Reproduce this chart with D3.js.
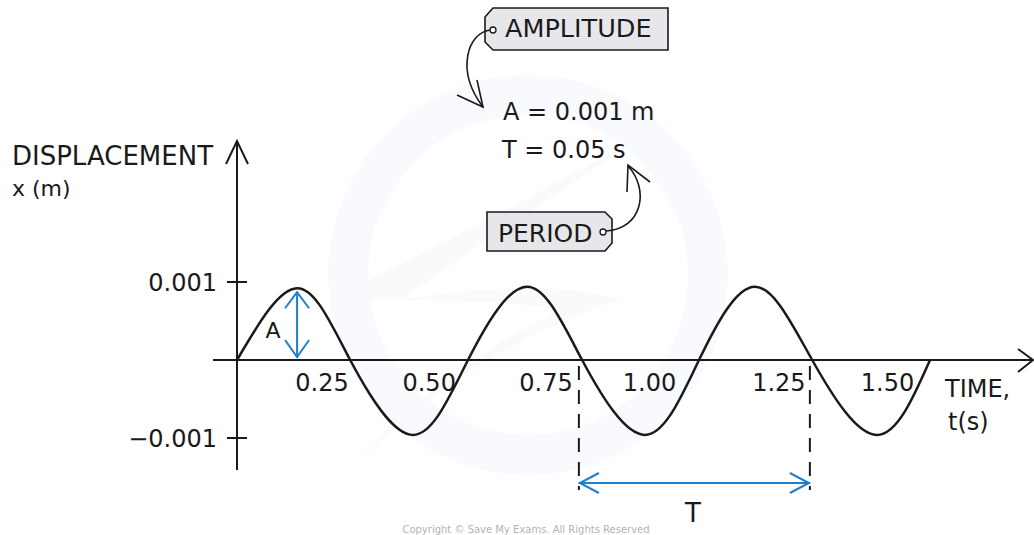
<!DOCTYPE html>
<html><head><meta charset="utf-8">
<script src="https://cdn.jsdelivr.net/npm/d3@7/dist/d3.min.js"></script>
<style>
html,body{margin:0;padding:0;background:#fff;}
svg{display:block;}
text{font-family:"DejaVu Sans",sans-serif;fill:#1a1a1a;}
</style></head>
<body>
<svg id="chart" width="1034" height="535"></svg>
<script>
// ---- data ----
const waveTimes  = [0, 0.0130, 0.0245, 0.0381, 0.0500, 0.0628, 0.0747, 0.0883, 0.1000, 0.1121, 0.1245, 0.1385, 0.1500];
const waveValues = [0, 0.00092, 0, -0.00096, 0, 0.00094, 0, -0.00096, 0, 0.00094, 0, -0.00096, 0];
const yTickValues = [0.001, -0.001];
const yTickLabels = ["0.001", "\u22120.001"];
const xTickLabels = ["0.25", "0.50", "0.75", "1.00", "1.25", "1.50"];
const xTickPositions = [0.0184, 0.0416, 0.0669, 0.0893, 0.1173, 0.1408];
const amplitudeTime = 0.0130;
const periodStart = 0.074, periodEnd = 0.124;

const svg = d3.select("#chart");
const blue = "#1f7fce";
const ink = "#1a1a1a";

const x = d3.scaleLinear().domain([0, 0.15]).range([237, 930]);
const y = d3.scaleLinear().domain([-0.001, 0.001]).range([438, 282]);
const y0 = y(0);

// very faint watermark
const wm = svg.append("g");
wm.append("circle").attr("cx", 528).attr("cy", 275).attr("r", 180)
  .attr("fill", "none").attr("stroke", "#f8fafd").attr("stroke-width", 40);
wm.append("path").attr("d", "M360,460 C420,400 520,330 620,300 C560,280 460,290 400,300 C500,230 620,150 690,110 C600,160 470,230 330,300 C420,300 520,300 560,310 C480,350 410,400 360,460 Z")
  .attr("fill", "#f8fafc");

// axes
svg.append("line").attr("x1", 213).attr("x2", 1032).attr("y1", y0).attr("y2", y0)
  .attr("stroke", ink).attr("stroke-width", 2);
svg.append("path").attr("d", `M1018,${y0-11} L1033,${y0} L1018,${y0+12}`)
  .attr("fill", "none").attr("stroke", ink).attr("stroke-width", 2);
svg.append("line").attr("x1", x(0)).attr("x2", x(0)).attr("y1", 141).attr("y2", 470)
  .attr("stroke", ink).attr("stroke-width", 2);
svg.append("path").attr("d", `M${x(0)-11},164 L${x(0)},141 L${x(0)+11},164`)
  .attr("fill", "none").attr("stroke", ink).attr("stroke-width", 2);

// y ticks
yTickValues.forEach((v, i) => {
  svg.append("line").attr("x1", x(0) - 10).attr("x2", x(0) + 10)
    .attr("y1", y(v)).attr("y2", y(v)).attr("stroke", ink).attr("stroke-width", 2);
  svg.append("text").attr("x", 217).attr("y", y(v) + 9).attr("text-anchor", "end")
    .attr("font-size", 24).text(yTickLabels[i]);
});

// x tick labels
xTickLabels.forEach((lab, i) => {
  svg.append("text").attr("x", x(xTickPositions[i])).attr("y", 391)
    .attr("text-anchor", "middle").attr("font-size", 24).text(lab);
});

// wave
const line = d3.line().x((d, i) => x(waveTimes[i])).y(d => y(d)).curve(d3.curveNatural);
svg.append("path").datum(waveValues).attr("d", line)
  .attr("fill", "none").attr("stroke", ink).attr("stroke-width", 2.5);

// axis titles
svg.append("text").attr("x", 12).attr("y", 165).attr("font-size", 26).text("DISPLACEMENT");
svg.append("text").attr("x", 12).attr("y", 196).attr("font-size", 22).text("x (m)");
svg.append("text").attr("x", 945).attr("y", 397).attr("font-size", 24).text("TIME,");
svg.append("text").attr("x", 948).attr("y", 430).attr("font-size", 24).text("t(s)");

// amplitude arrow
const ax = x(amplitudeTime), aTop = y(waveValues[1]) + 4, aBot = y0 - 3;
svg.append("line").attr("x1", ax).attr("x2", ax).attr("y1", aTop).attr("y2", aBot)
  .attr("stroke", blue).attr("stroke-width", 2);
svg.append("path").attr("d", `M${ax-12},${aTop+16} L${ax},${aTop} L${ax+12},${aTop+16} M${ax-12},${aBot-17} L${ax},${aBot} L${ax+12},${aBot-17}`)
  .attr("fill", "none").attr("stroke", blue).attr("stroke-width", 2);
svg.append("text").attr("x", 273).attr("y", 338).attr("text-anchor", "middle").attr("font-size", 22).text("A");

// period dashed lines + arrow
[periodStart, periodEnd].forEach(t => {
  svg.append("line").attr("x1", x(t)).attr("x2", x(t)).attr("y1", y0 + 6).attr("y2", 490)
    .attr("stroke", ink).attr("stroke-width", 2).attr("stroke-dasharray", "14,10");
});
const p1 = x(periodStart), p2 = x(periodEnd), py = 483;
svg.append("line").attr("x1", p1).attr("x2", p2).attr("y1", py).attr("y2", py)
  .attr("stroke", blue).attr("stroke-width", 2);
svg.append("path").attr("d", `M${p1+20},${py-10} L${p1+1},${py} L${p1+20},${py+10} M${p2-20},${py-10} L${p2-1},${py} L${p2-20},${py+10}`)
  .attr("fill", "none").attr("stroke", blue).attr("stroke-width", 2);
svg.append("text").attr("x", 693).attr("y", 522).attr("text-anchor", "middle").attr("font-size", 26).text("T");

// AMPLITUDE tag
svg.append("path").attr("d", "M493,8 L668,8 L668,50 L493,50 L485,42 L485,17 Z")
  .attr("fill", "#e7e7eb").attr("stroke", ink).attr("stroke-width", 1.6);
svg.append("circle").attr("cx", 493).attr("cy", 30).attr("r", 3)
  .attr("fill", "#fff").attr("stroke", ink).attr("stroke-width", 1.3);
svg.append("text").attr("x", 505).attr("y", 37).attr("font-size", 25.5).text("AMPLITUDE");
svg.append("path").attr("d", "M490,30 C468,33 455,70 483,107")
  .attr("fill", "none").attr("stroke", ink).attr("stroke-width", 1.6);
svg.append("path").attr("d", "M457,95 L483,107 L477,80")
  .attr("fill", "none").attr("stroke", ink).attr("stroke-width", 1.6);

// formulas
svg.append("text").attr("x", 503).attr("y", 120).attr("font-size", 24).text("A = 0.001 m");
svg.append("text").attr("x", 502).attr("y", 158).attr("font-size", 24).text("T = 0.05 s");

// PERIOD tag
svg.append("path").attr("d", "M487,212 L605,212 L612,219 L612,243 L605,251 L487,251 Z")
  .attr("fill", "#e7e7eb").attr("stroke", ink).attr("stroke-width", 1.6);
svg.append("circle").attr("cx", 603).attr("cy", 232).attr("r", 3)
  .attr("fill", "#fff").attr("stroke", ink).attr("stroke-width", 1.3);
svg.append("text").attr("x", 498).attr("y", 242).attr("font-size", 25).text("PERIOD");
svg.append("path").attr("d", "M606,231 C642,229 650,190 628,166")
  .attr("fill", "none").attr("stroke", ink).attr("stroke-width", 1.6);
svg.append("path").attr("d", "M650,182 L628,165 L627,192")
  .attr("fill", "none").attr("stroke", ink).attr("stroke-width", 1.6);

// copyright
svg.append("text").attr("x", 526).attr("y", 533).attr("text-anchor", "middle")
  .attr("font-family", "Open Sans").attr("font-size", 10).style("fill", "#b3b3b3")
  .text("Copyright \u00a9 Save My Exams. All Rights Reserved");
</script>
</body></html>
